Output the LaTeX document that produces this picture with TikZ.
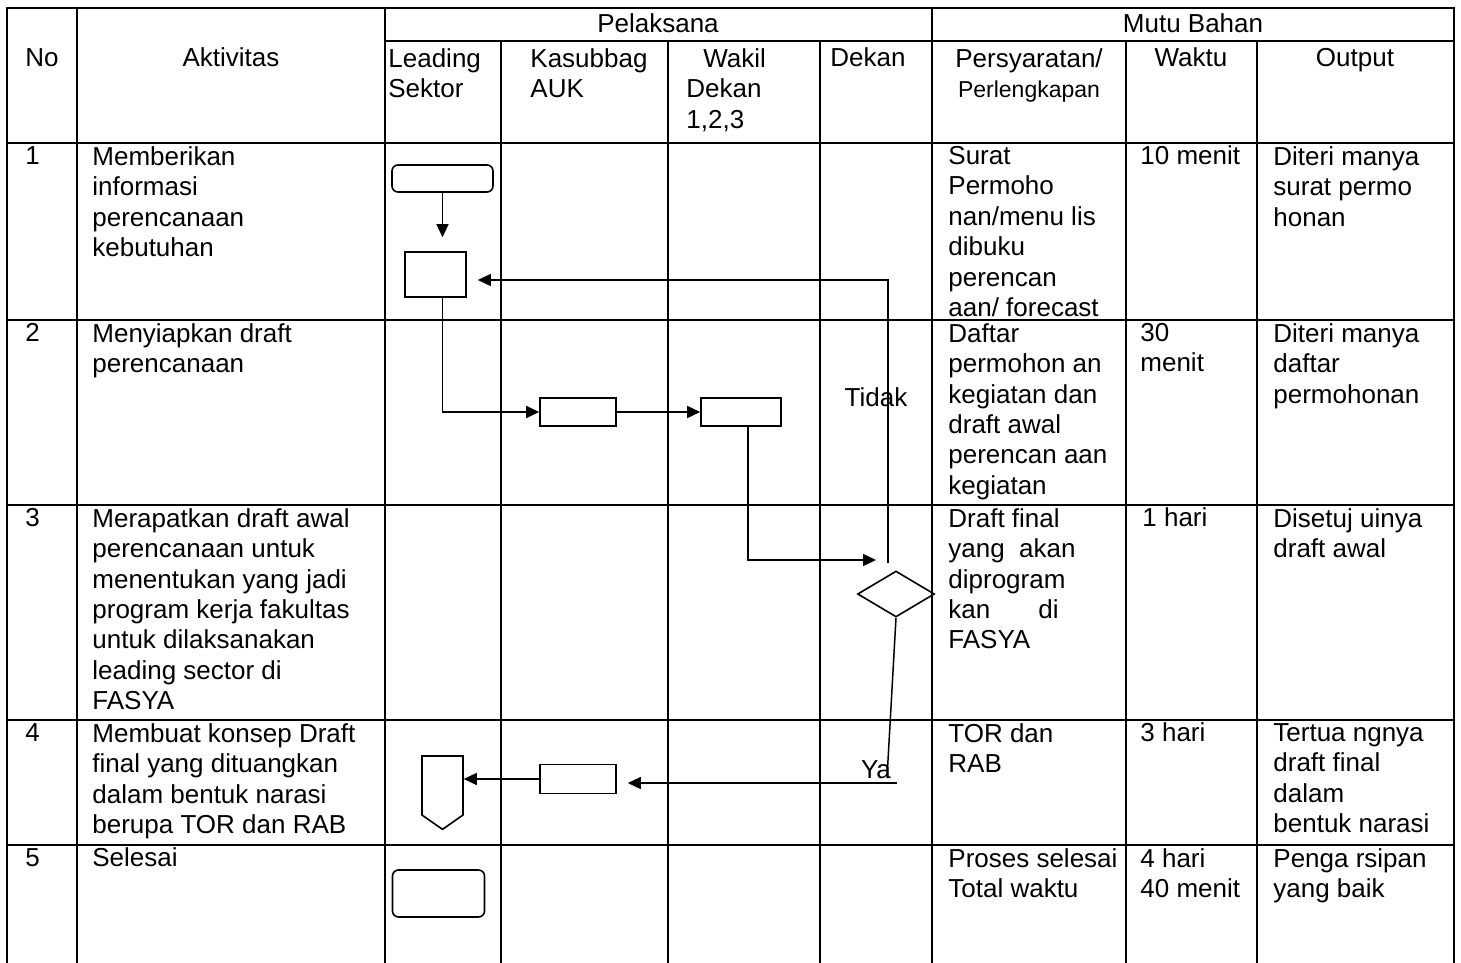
\documentclass[tikz,border=0pt]{standalone}
\usepackage{fontspec}
\setmainfont{Liberation Sans}
\usetikzlibrary{shapes.geometric, shapes.symbols, arrows.meta, positioning, calc}

\begin{document}
\begin{tikzpicture}[
    x=0.5pt, y=-0.5pt,
    every node/.style={font=\fontsize{13}{15.2}\selectfont},
    grid/.style={line width=1pt, line cap=rect},
    cell/.style={anchor=north west, align=left, inner sep=0pt, execute at begin node=\strut},
    mcell/.style={cell, yshift=-1.5pt},
    head/.style={anchor=north, align=center, inner sep=0pt, execute at begin node=\strut},
    term/.style={rectangle, draw, rounded corners=3pt, line width=0.8pt, inner sep=0pt},
    proc/.style={rectangle, draw, line width=0.8pt, inner sep=0pt},
    dec/.style={diamond, draw, aspect=1.67, line width=0.8pt, inner sep=0pt},
    offp/.style={signal, signal to=south, signal pointer angle=110, draw,
                 line width=0.8pt, inner sep=0pt},
    arr/.style={-{Triangle[length=6.5pt, width=6pt]}, line width=0.75pt},
    link/.style={line width=0.75pt}
]
    \useasboundingbox (0,0) rectangle (1461,963);

    % table grid
    \foreach \y in {8,143,320,505,720,845}
        \draw[grid] (7,\y) -- (1454,\y);
    \draw[grid] (385,41) -- (1454,41);
    \foreach \x in {7,77,385,932,1454}
        \draw[grid] (\x,8) -- (\x,963);
    \foreach \x in {501,668,820,1126,1257}
        \draw[grid] (\x,41) -- (\x,963);

    % header
    \node[head]  (pel)    at (658,11)  {Pelaksana};
    \node[head]  (mutu)   at (1193,11) {Mutu Bahan};
    \node[head]  (no)     at (42,45)   {No};
    \node[head]  (akt)    at (231,45)  {Aktivitas};
    \node[mcell] (ls)     at (388,45)  {Leading\\Sektor};
    \node[mcell] (kasub)  at (530,45)  {Kasubbag\\AUK};
    \node[mcell] (wadek)  at (686,45)  {\hspace*{8.5pt}Wakil\\Dekan\\1,2,3};
    \node[cell]  (dekan)  at (830,45)  {Dekan};
    \node[head, yshift=-1.5pt] (syarat) at (1029,45) {Persyaratan/\\{\fontsize{11.5}{15.2}\selectfont Perlengkapan}};
    \node[head]  (waktu)  at (1191,45) {Waktu};
    \node[head]  (outp)   at (1355,45) {Output};

    % row 1
    \node[cell]  (n1) at (25,143)   {1};
    \node[mcell] (a1) at (92,143)   {Memberikan\\informasi\\perencanaan\\kebutuhan};
    \node[mcell] (p1) at (948,143)  {Surat\\Permoho\\nan/menu lis\\dibuku\\perencan\\aan/ forecast};
    \node[cell]  (w1) at (1140,143) {10 menit};
    \node[mcell] (o1) at (1273,143) {Diteri manya\\surat permo\\honan};

    % row 2
    \node[cell]  (n2) at (25,320)   {2};
    \node[mcell] (a2) at (92,320)   {Menyiapkan draft\\perencanaan};
    \node[mcell] (p2) at (948,320)  {Daftar\\permohon an\\kegiatan dan\\draft awal\\perencan aan\\kegiatan};
    \node[mcell] (w2) at (1140,320) {30\\menit};
    \node[mcell] (o2) at (1273,320) {Diteri manya\\daftar\\permohonan};

    % row 3
    \node[cell]  (n3) at (25,505)   {3};
    \node[mcell] (a3) at (92,505)   {Merapatkan draft awal\\perencanaan untuk\\menentukan yang jadi\\program kerja fakultas\\untuk dilaksanakan\\leading sector di\\FASYA};
    \node[mcell] (p3) at (948,505)  {Draft final\\yang\ \ akan\\diprogram\\kan\hspace*{24pt}di\\FASYA};
    \node[cell]  (w3) at (1142,505) {1 hari};
    \node[mcell] (o3) at (1273,505) {Disetuj uinya\\draft awal};

    % row 4
    \node[cell]  (n4) at (25,720)   {4};
    \node[mcell] (a4) at (92,720)   {Membuat konsep Draft\\final yang dituangkan\\dalam bentuk narasi\\berupa TOR dan RAB};
    \node[mcell] (p4) at (948,720)  {TOR dan\\RAB};
    \node[cell]  (w4) at (1140,720) {3 hari};
    \node[mcell] (o4) at (1273,720) {Tertua ngnya\\draft final\\dalam\\bentuk narasi};

    % row 5
    \node[cell]  (n5) at (25,845)   {5};
    \node[cell]  (a5) at (92,845)   {Selesai};
    \node[mcell] (p5) at (948,845)  {Proses selesai\\Total waktu};
    \node[mcell] (w5) at (1140,845) {4 hari\\40 menit};
    \node[mcell] (o5) at (1273,845) {Penga rsipan\\yang baik};

    % flow symbols
    \node[term, minimum width=50.5pt, minimum height=13.5pt] (mulai)   at (442.5,178.5) {};
    \node[proc, minimum width=30.5pt, minimum height=22.5pt] (draft)   at (435.5,274.5) {};
    \node[proc, minimum width=38pt,   minimum height=14pt]   (kasbox)  at (578,412) {};
    \node[proc, minimum width=40pt,   minimum height=14pt]   (wdbox)   at (741,412) {};
    \node[dec,  minimum width=38.5pt, minimum height=23pt]   (rapat)   at (896,594) {};
    \node[proc, minimum width=38pt,   minimum height=14.5pt] (torbox)  at (578,779) {};
    \node[offp, minimum width=20.5pt, minimum height=29.5pt] (lanjut)  at (442.5,785.5) {};
    \node[term, minimum width=46pt,   minimum height=23.5pt] (selesai) at (438.5,893.5) {};

    \coordinate (masuk)  at (876,560);
    \coordinate (tidak)  at (888,563);
    \coordinate (ya)     at (887,778);
    \coordinate (yaawal) at (897,783);

    \node[anchor=base] (tidaklbl) at (876,406) {Tidak};
    \node[anchor=base] (yalbl)    at (876,778) {Ya};

    % connectors
    \draw[arr, shorten >=7pt] (mulai.south) -- (mulai.south |- draft.north);
    \draw[arr] (draft.south -| mulai.south) |- (kasbox.west);
    \draw[arr] (kasbox.east) -- (wdbox.west);
    \draw[arr] ([xshift=3.5pt]wdbox.south) |- (masuk);
    \draw[arr, shorten >=5.5pt] (tidak) |- ([yshift=-2.75pt]draft.east);
    \draw[link] (rapat.south) -- (ya);
    \draw[arr, shorten >=5.5pt] (yaawal) -- (yaawal -| torbox.east);
    \draw[arr] (torbox.west) -- (torbox.west -| lanjut.east);
\end{tikzpicture}
\end{document}
